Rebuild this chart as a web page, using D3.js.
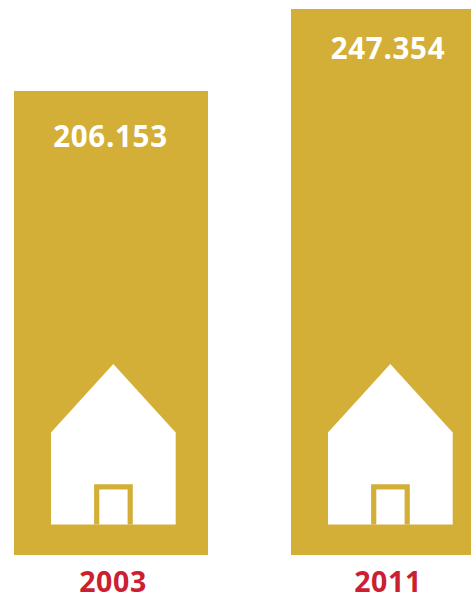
<!DOCTYPE html>
<html>
<head>
<meta charset="utf-8">
<script src="https://cdn.jsdelivr.net/npm/d3@7"></script>
<style>
  html, body { margin: 0; padding: 0; background: #fff; }
  svg { display: block; }
  text { font-family: "Open Sans", sans-serif; font-weight: 700; text-anchor: middle; }
</style>
</head>
<body>
<div id="chart"></div>
<script>
const years = ["2003", "2011"];
const values = [206153, 247354];
const valueLabels = ["206.153", "247.354"];

const width = 471, height = 596;
const BAR_COLOR = "#d4af38", YEAR_COLOR = "#cb2031";

let svg = d3.select("#chart").append("svg")
    .attr("width", width)
    .attr("height", height);

// bars share a baseline at y=555, the axis does not start at zero in the original
let x = d3.scaleOrdinal().domain(years).range([14, 291]);
let y = d3.scaleLinear().domain([206153, 247354]).range([91, 9]);
const BAR_WIDTH = 194, BASE = 555, HOUSE_BOTTOM = 524.5;

// the labels are not placed quite evenly in the original
const valueOffset = [56, 50];
const valueShift = [-0.5, 0];
const yearShift = [2, 0];

let bars = svg.selectAll("g.bar").data(years).enter().append("g")
    .attr("class", "bar")
    .attr("transform", d => "translate(" + x(d) + ",0)");

bars.append("rect")
    .attr("y", (d, i) => y(values[i]))
    .attr("width", BAR_WIDTH)
    .attr("height", (d, i) => BASE - y(values[i]))
    .attr("fill", BAR_COLOR);

bars.append("text")
    .attr("x", (d, i) => BAR_WIDTH / 2 + valueShift[i])
    .attr("y", (d, i) => y(values[i]) + valueOffset[i])
    .attr("font-size", 29.5)
    .attr("letter-spacing", 0.7)
    .attr("fill", "#fff")
    .text((d, i) => valueLabels[i]);

bars.append("text")
    .attr("x", (d, i) => BAR_WIDTH / 2 + yearShift[i])
    .attr("y", 591.5)
    .attr("font-size", 28.5)
    .attr("letter-spacing", 0.6)
    .attr("fill", YEAR_COLOR)
    .text(d => d);

// house icon
bars.append("path")
    .attr("d", "M37,432.5L99.3,364L161.7,432.5V" + HOUSE_BOTTOM + "H37Z")
    .attr("fill", "#fff");

// door has no sill, the frame runs down to the bottom of the house
bars.append("path")
    .attr("d", "M82.7," + HOUSE_BOTTOM + "V486.8H116.2V" + HOUSE_BOTTOM)
    .attr("fill", "none")
    .attr("stroke", BAR_COLOR)
    .attr("stroke-width", 5.2);
</script>
</body>
</html>
